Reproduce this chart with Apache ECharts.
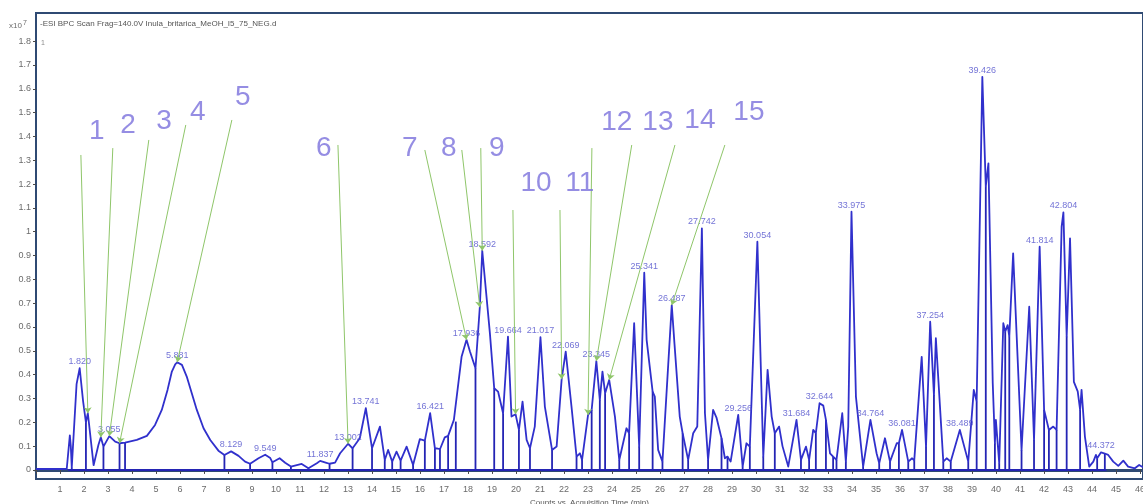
<!DOCTYPE html>
<html>
<head>
<meta charset="utf-8">
<script src="https://cdn.jsdelivr.net/npm/echarts@6/dist/echarts.min.js"></script>
<style>
  html, body { margin: 0; padding: 0; background: #ffffff; }
  #chart { width: 1143px; height: 504px; }
</style>
</head>
<body>
<div id="chart"></div>
<script>
// Base peak chromatogram: retention time (min) and intensity (x10^7 counts)
const rt = [
  0.00, 1.28, 1.34, 1.41, 1.45, 1.49, 1.53, 1.69, 1.76, 1.82,
  1.96, 2.08, 2.16, 2.40, 2.60, 2.70, 2.81, 3.055, 3.30, 3.48,
  3.71, 4.20, 4.62, 4.96, 5.24, 5.48, 5.66, 5.80, 5.881, 6.08,
  6.28, 6.49, 6.70, 6.98, 7.26, 7.60, 7.85, 8.129, 8.44, 8.71,
  8.92, 9.27, 9.549, 9.76, 9.85, 10.15, 10.38, 10.62, 11.07, 11.35,
  11.70, 11.837, 12.10, 12.23, 12.46, 12.67, 13.002, 13.19, 13.49, 13.741,
  14.00, 14.33, 14.53, 14.67, 14.84, 15.02, 15.19, 15.44, 15.71, 15.99,
  16.20, 16.421, 16.62, 16.72, 16.83, 17.03, 17.17, 17.41, 17.49, 17.73,
  17.936, 18.08, 18.31, 18.49, 18.592, 18.91, 19.09, 19.25, 19.46, 19.664,
  19.81, 19.98, 20.12, 20.27, 20.44, 20.58, 20.78, 21.017, 21.20, 21.50,
  21.69, 21.90, 22.069, 22.31, 22.52, 22.66, 22.75, 23.00, 23.15, 23.345,
  23.49, 23.60, 23.71, 23.88, 24.12, 24.30, 24.60, 24.71, 24.92, 25.13,
  25.341, 25.44, 25.69, 25.78, 25.92, 26.10, 26.487, 26.60, 26.82, 26.94,
  27.17, 27.38, 27.55, 27.742, 27.87, 28.00, 28.21, 28.35, 28.56, 28.70,
  28.81, 28.94, 29.256, 29.44, 29.60, 29.74, 30.054, 30.30, 30.48, 30.65,
  30.78, 30.96, 31.10, 31.34, 31.684, 31.87, 32.08, 32.21, 32.38, 32.49,
  32.644, 32.80, 32.91, 33.08, 33.21, 33.35, 33.59, 33.74, 33.84, 33.975,
  34.16, 34.46, 34.764, 35.02, 35.13, 35.37, 35.58, 35.86, 35.95, 36.081,
  36.34, 36.50, 36.59, 36.90, 37.08, 37.254, 37.41, 37.49, 37.80, 37.94,
  38.11, 38.489, 38.84, 39.07, 39.19, 39.426, 39.57, 39.68, 39.86, 39.95,
  39.99, 40.13, 40.30, 40.38, 40.48, 40.55, 40.71, 41.06, 41.38, 41.58,
  41.814, 42.00, 42.06, 42.20, 42.38, 42.52, 42.73, 42.804, 42.94, 43.08,
  43.24, 43.40, 43.50, 43.56, 43.70, 43.88, 43.91, 44.05, 44.16, 44.21,
  44.372, 44.50, 44.53, 44.67, 44.88, 45.09, 45.30, 45.50, 45.78, 45.96,
  46.12
];
const counts = [
  0.004, 0.004, 0.010, 0.145, 0.100, 0.010, 0.010, 0.360, 0.365, 0.427,
  0.290, 0.200, 0.238, 0.020, 0.105, 0.137, 0.098, 0.142, 0.119, 0.112,
  0.115, 0.126, 0.143, 0.189, 0.252, 0.336, 0.413, 0.443, 0.452, 0.441,
  0.392, 0.322, 0.252, 0.175, 0.126, 0.081, 0.063, 0.078, 0.059, 0.035,
  0.026, 0.049, 0.064, 0.050, 0.032, 0.049, 0.030, 0.014, 0.025, 0.007,
  0.028, 0.038, 0.030, 0.026, 0.031, 0.070, 0.110, 0.091, 0.133, 0.259,
  0.091, 0.182, 0.042, 0.084, 0.035, 0.077, 0.039, 0.098, 0.021, 0.129,
  0.123, 0.238, 0.091, 0.090, 0.087, 0.137, 0.143, 0.210, 0.203, 0.475,
  0.546, 0.497, 0.427, 0.683, 0.920, 0.574, 0.343, 0.329, 0.238, 0.560,
  0.224, 0.234, 0.168, 0.287, 0.126, 0.091, 0.182, 0.557, 0.266, 0.084,
  0.098, 0.381, 0.497, 0.266, 0.056, 0.070, 0.042, 0.231, 0.252, 0.457,
  0.294, 0.413, 0.322, 0.378, 0.224, 0.042, 0.175, 0.154, 0.616, 0.098,
  0.828, 0.546, 0.329, 0.308, 0.084, 0.035, 0.692, 0.530, 0.224, 0.154,
  0.042, 0.154, 0.182, 1.014, 0.238, 0.042, 0.252, 0.220, 0.133, 0.049,
  0.056, 0.035, 0.231, 0.014, 0.112, 0.098, 0.958, 0.056, 0.420, 0.224,
  0.154, 0.182, 0.100, 0.014, 0.210, 0.042, 0.098, 0.042, 0.168, 0.154,
  0.280, 0.270, 0.210, 0.070, 0.056, 0.042, 0.238, 0.035, 0.182, 1.084,
  0.308, 0.014, 0.210, 0.070, 0.028, 0.133, 0.035, 0.112, 0.112, 0.168,
  0.035, 0.049, 0.040, 0.475, 0.098, 0.622, 0.315, 0.553, 0.035, 0.049,
  0.035, 0.168, 0.035, 0.336, 0.287, 1.650, 1.190, 1.287, 0.364, 0.112,
  0.210, 0.028, 0.616, 0.580, 0.608, 0.560, 0.909, 0.084, 0.685, 0.126,
  0.937, 0.252, 0.260, 0.168, 0.182, 0.168, 1.021, 1.081, 0.560, 0.972,
  0.370, 0.330, 0.252, 0.336, 0.140, 0.014, 0.021, 0.035, 0.063, 0.049,
  0.074, 0.070, 0.068, 0.063, 0.035, 0.017, 0.039, 0.014, 0.007, 0.021,
  0.011
];

// Integration boundaries: vertical drop lines from the trace to the baseline
const dropRt = [
  1.49, 2.08, 2.81, 3.48, 3.71, 7.85, 8.92, 9.85, 10.62, 11.35,
  12.23, 13.19, 14.00, 14.53, 14.84, 15.19, 15.71, 16.20, 16.62, 16.83,
  17.17, 17.49, 18.31, 19.09, 19.46, 20.12, 20.58, 21.50, 22.52, 22.75,
  23.15, 23.49, 23.71, 24.30, 24.71, 25.13, 25.69, 26.10, 26.94, 27.17,
  28.00, 28.56, 28.81, 29.44, 29.74, 30.30, 30.78, 31.87, 32.21, 32.49,
  32.91, 33.21, 33.35, 33.74, 34.46, 35.13, 35.58, 35.95, 36.34, 36.59,
  37.08, 37.41, 37.80, 38.11, 38.84, 39.19, 39.57, 39.95, 40.13, 40.38,
  40.55, 41.06, 41.58, 42.00, 42.20, 42.52, 42.94, 43.50, 44.21, 44.53
];
// Integration baseline extent (min)
const baselineRt = [1.34, 44.6];

// Apexes labelled with their retention time
const apexRt = [
  1.82, 3.055, 5.881, 8.129, 9.549, 11.837, 13.002, 13.741, 16.421, 17.936,
  18.592, 19.664, 21.017, 22.069, 23.345, 25.341, 26.487, 27.742, 29.256, 30.054,
  31.684, 32.644, 33.975, 34.764, 36.081, 37.254, 38.489, 39.426, 41.814, 42.804,
  44.372
];

// Numbered compound callouts
const calloutNo = [1, 2, 3, 4, 5, 6, 7, 8, 9, 10, 11, 12, 13, 14, 15];
const calloutTextRt = [2.53, 3.83, 5.33, 6.74, 8.62, 11.99, 15.57, 17.20, 19.20, 20.83, 22.66, 24.20, 25.91, 27.66, 29.70];
const calloutTextCounts = [1.423, 1.448, 1.465, 1.502, 1.565, 1.351, 1.351, 1.351, 1.351, 1.204, 1.204, 1.460, 1.460, 1.469, 1.502];
const calloutFromRt = [1.87, 3.20, 4.70, 6.24, 8.16, 12.58, 16.20, 17.74, 18.53, 19.87, 21.83, 23.16, 24.82, 26.62, 28.70];
const calloutFromCounts = [1.322, 1.351, 1.385, 1.448, 1.469, 1.364, 1.343, 1.343, 1.351, 1.091, 1.091, 1.351, 1.364, 1.364, 1.364];
const calloutToRt = [2.16, 2.70, 3.055, 3.48, 5.881, 13.002, 17.936, 18.49, 18.592, 19.98, 21.90, 23.00, 23.345, 23.88, 26.487];

// Axis ticks
const yTicks = [0, 0.1, 0.2, 0.3, 0.4, 0.5, 0.6, 0.7, 0.8, 0.9, 1, 1.1, 1.2, 1.3, 1.4, 1.5, 1.6, 1.7, 1.8];
const xMin = 0, xMax = 46.12, xStep = 1;
const yMin = -0.038, yMax = 1.918;

const traceColor = '#3030cc';
const axisDark = '#2f4a73';
const labelGray = '#6b6b6b';
const font = 'Liberation Sans, Arial, sans-serif';

function countsAt(t) {
  const i = rt.indexOf(t);
  return i >= 0 ? counts[i] : 0;
}

const trace = rt.map((t, i) => [t, counts[i]]);
const drops = dropRt.map(t => [t, countsAt(t)]);
const apexes = apexRt.map(t => [t, countsAt(t)]);
const calloutText = calloutNo.map((n, i) => [calloutTextRt[i], calloutTextCounts[i], n]);
const calloutLines = calloutNo.map((n, i) => ({
  coords: [[calloutFromRt[i], calloutFromCounts[i]], [calloutToRt[i], countsAt(calloutToRt[i])]]
}));

const chart = echarts.init(document.getElementById('chart'), null, { renderer: 'canvas' });

chart.setOption({
  animation: false,
  backgroundColor: '#ffffff',
  textStyle: { fontFamily: font },
  grid: {
    left: 36, right: 0, top: 13, bottom: 25,
    outerBoundsMode: 'none',
    show: true, borderColor: axisDark, borderWidth: 2, backgroundColor: '#ffffff'
  },
  graphic: [
    {
      type: 'text', left: 9, top: 20,
      style: {
        text: '{a|x10}{s|7}',
        rich: {
          a: { fontSize: 8, fill: labelGray, fontFamily: font },
          s: { fontSize: 7, fill: labelGray, verticalAlign: 'top', padding: [0, 0, 5, 1], fontFamily: font }
        }
      }
    },
    {
      type: 'text', left: 40, top: 20,
      style: {
        text: '-ESI BPC Scan Frag=140.0V Inula_britarica_MeOH_I5_75_NEG.d',
        fontSize: 8, fill: '#555555', fontFamily: font
      }
    },
    {
      type: 'text', left: 41, top: 40,
      style: { text: '1', fontSize: 7, fill: '#8a8a8a', fontFamily: font }
    }
  ],
  xAxis: {
    type: 'value', min: xMin, max: xMax, interval: xStep,
    name: 'Counts vs. Acquisition Time (min)', nameLocation: 'middle', nameGap: 17,
    nameTextStyle: { fontSize: 8, color: '#555555' },
    axisLine: { show: true, lineStyle: { color: axisDark, width: 3 } },
    axisTick: { show: true, length: 4, lineStyle: { color: '#4a4a4a', width: 1 } },
    axisLabel: {
      fontSize: 9, color: labelGray, margin: 6,
      formatter: v => (v === 0 ? '' : String(v))
    },
    splitLine: { show: false }
  },
  yAxis: {
    type: 'value', min: yMin, max: yMax,
    axisLine: { show: true, lineStyle: { color: axisDark, width: 2 } },
    axisTick: { show: true, length: 3, customValues: yTicks, lineStyle: { color: '#4a4a4a', width: 1 } },
    axisLabel: { fontSize: 9, color: labelGray, margin: 5, customValues: yTicks },
    splitLine: { show: false }
  },
  series: [
    {
      name: 'baseline', type: 'line', data: baselineRt.map(t => [t, 0]),
      symbol: 'none', silent: true, z: 2,
      lineStyle: { color: '#2424b4', width: 2 }
    },
    {
      name: 'drops', type: 'custom', data: drops, z: 3, silent: true,
      renderItem: (params, api) => {
        const p0 = api.coord([api.value(0), 0]);
        const p1 = api.coord([api.value(0), api.value(1)]);
        return {
          type: 'line',
          shape: { x1: p0[0], y1: p0[1], x2: p1[0], y2: p1[1] },
          style: { stroke: '#2424b4', lineWidth: 1.8 }
        };
      }
    },
    {
      name: 'BPC', type: 'line', data: trace, symbol: 'none', z: 4,
      lineStyle: { color: traceColor, width: 1.8, join: 'round' }
    },
    {
      name: 'apex labels', type: 'scatter', data: apexes, symbolSize: 0, z: 5,
      label: {
        show: true, position: 'top', distance: 2, fontSize: 9, color: '#5050cc',
        formatter: p => p.value[0].toFixed(3)
      }
    },
    {
      name: 'callout lines', type: 'lines', coordinateSystem: 'cartesian2d',
      data: calloutLines, z: 6, silent: true,
      symbol: ['none', 'arrow'], symbolSize: 6,
      lineStyle: { color: '#8fc66a', width: 1, opacity: 1 }
    },
    {
      name: 'callout numbers', type: 'scatter', data: calloutText, symbolSize: 0, z: 7,
      label: {
        show: true, position: 'inside', fontSize: 28, color: '#7a70dc',
        fontFamily: 'Liberation Sans Narrow, Arial Narrow, Liberation Sans, sans-serif',
        formatter: p => String(p.value[2])
      }
    }
  ]
});
</script>
</body>
</html>
